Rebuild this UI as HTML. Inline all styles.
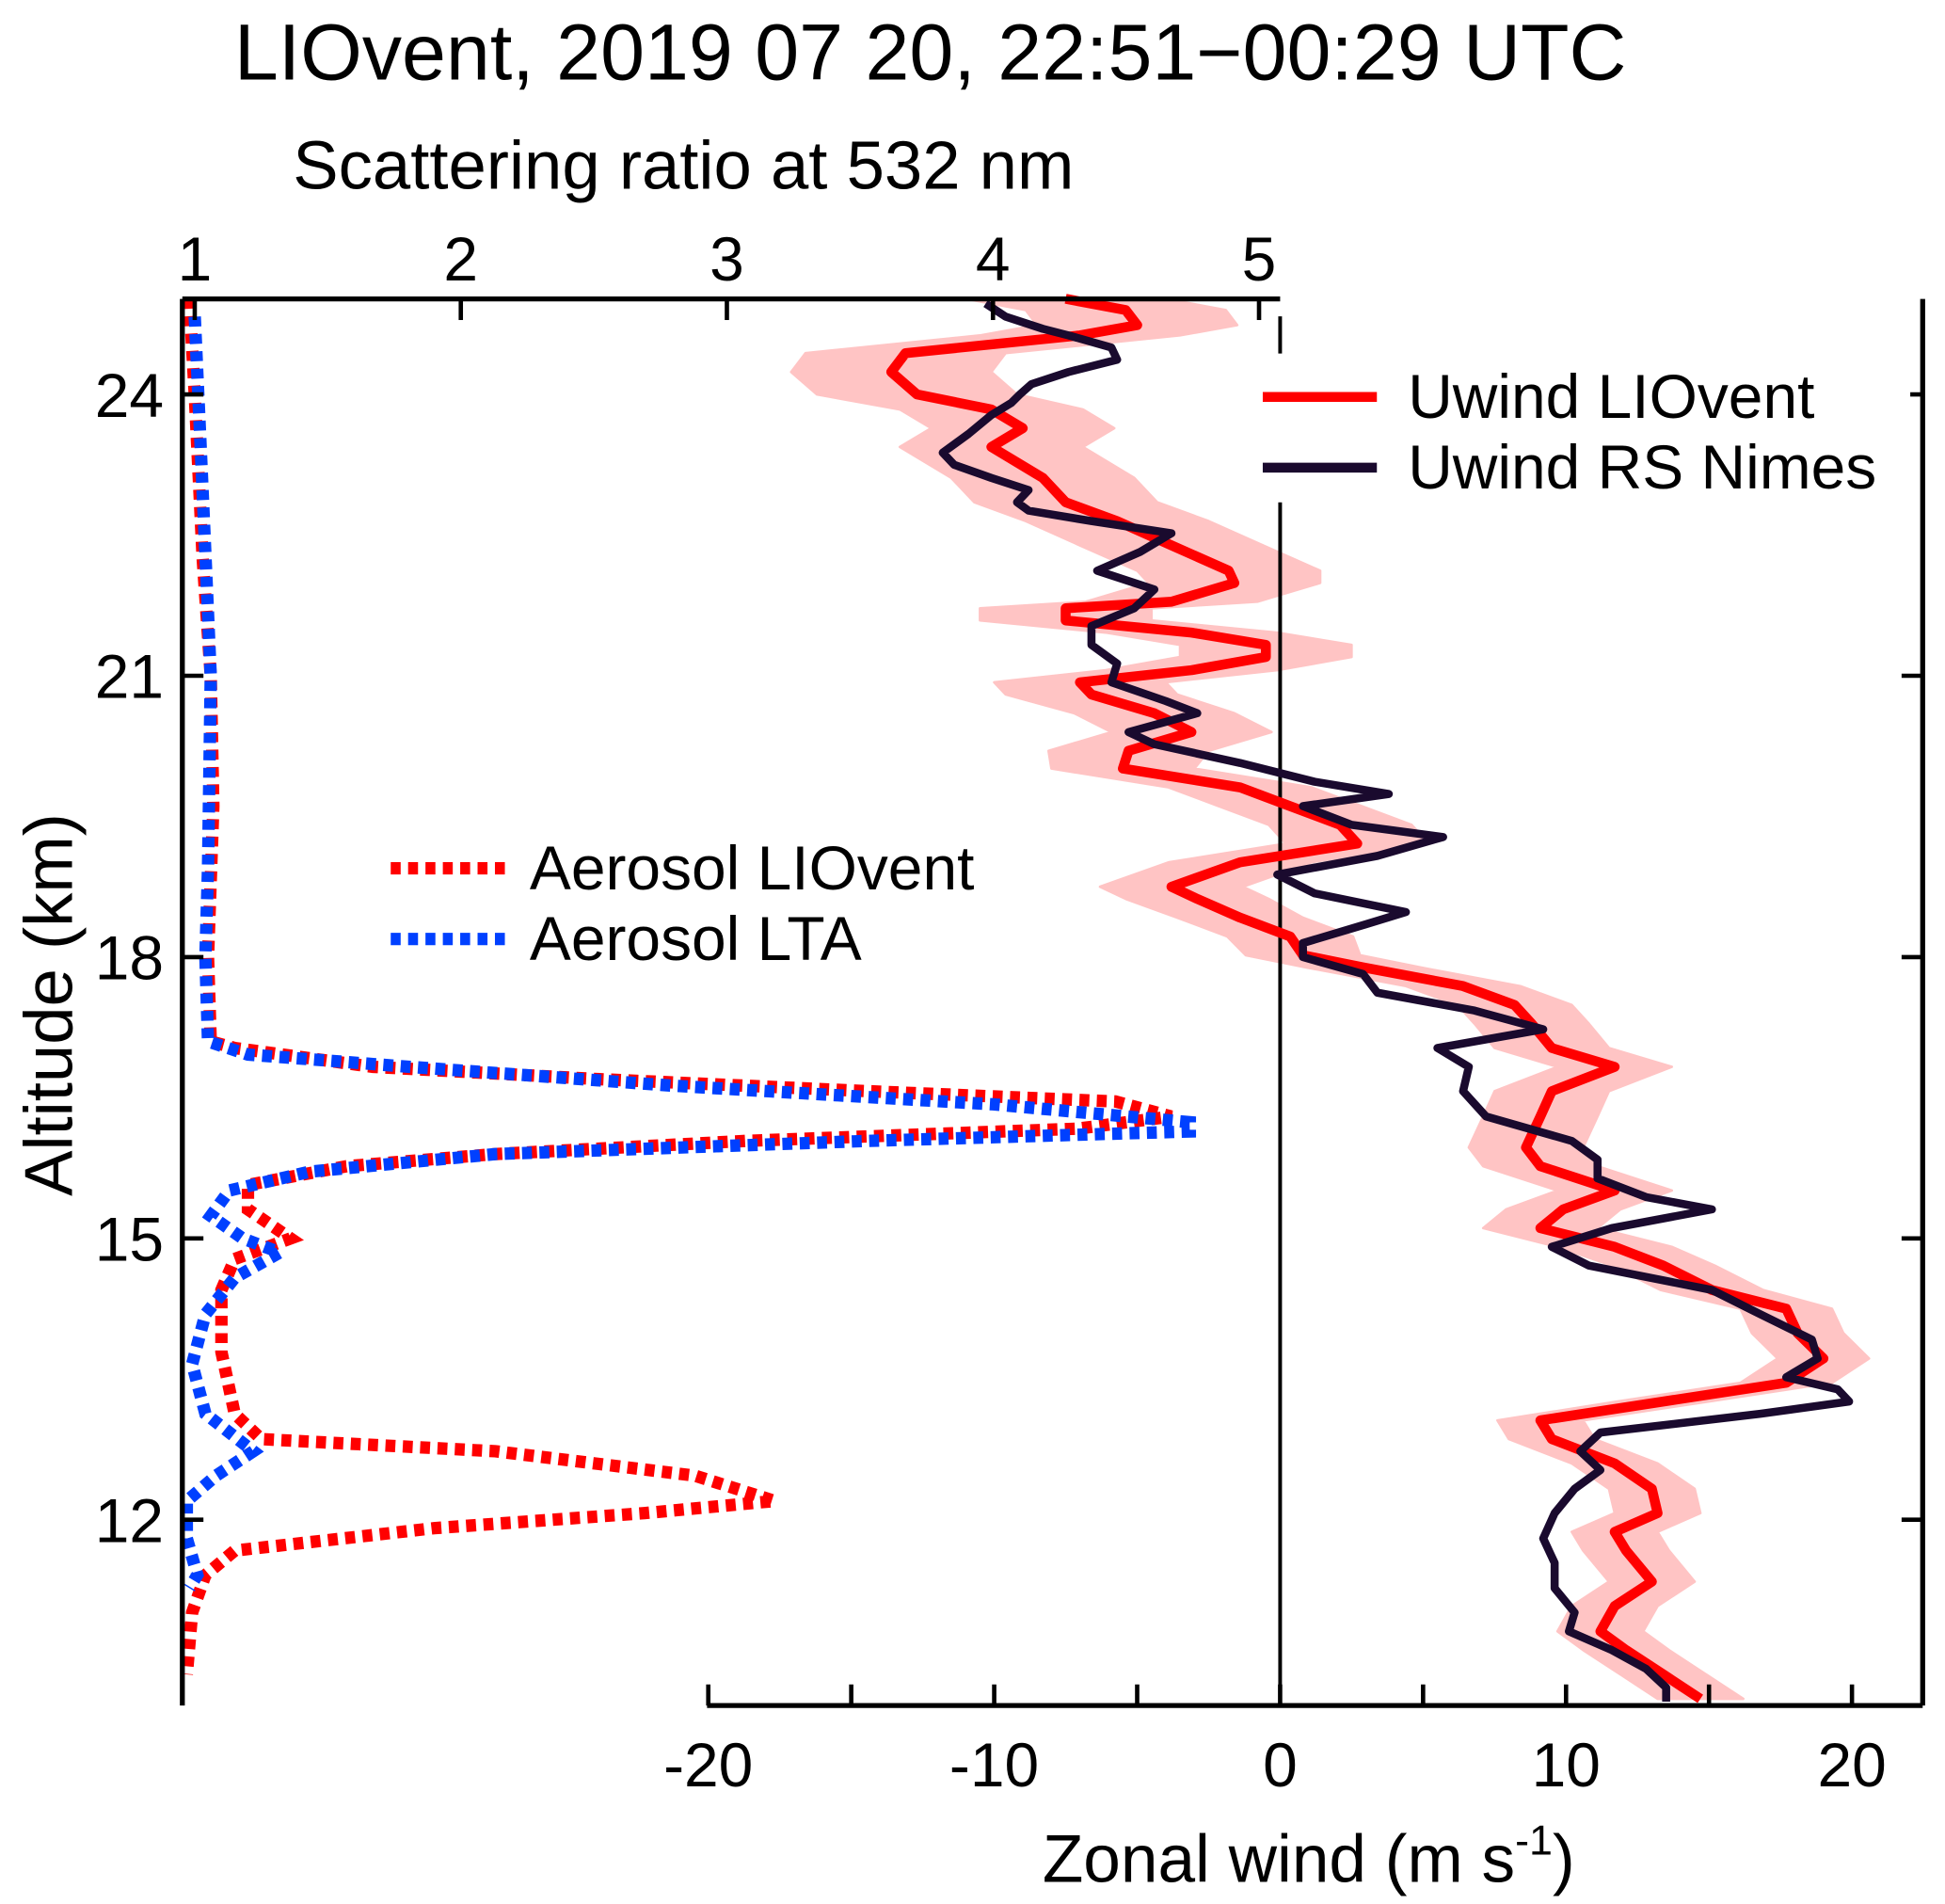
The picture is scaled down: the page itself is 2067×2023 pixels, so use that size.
<!DOCTYPE html>
<html><head><meta charset="utf-8"><style>
html,body{margin:0;padding:0;background:#fff;}
svg{display:block;font-family:"Liberation Sans",Arial,sans-serif;}
</style></head><body>
<svg id="chart" width="2067" height="2023" viewBox="0 0 1568 1535" preserveAspectRatio="none" xmlns="http://www.w3.org/2000/svg">
<text x="750" y="64" font-size="64" text-anchor="middle">LIOvent, 2019 07 20, 22:51−00:29 UTC</text>
<text x="551" y="152" font-size="55" text-anchor="middle">Scattering ratio at  532 nm</text>
<text transform="translate(58,810) rotate(-90)" font-size="55" text-anchor="middle">Altitude (km)</text>
<text x="1055" y="1517" font-size="54" text-anchor="middle">Zonal wind (m s<tspan font-size="34" dy="-22">-1</tspan><tspan dy="22">)</tspan></text>
<g id="plot"></g>
</svg>
<script>
const altTicks=[24,21,18,15,12];
const srTicks=[1,2,3,4,5];
const windTicks=[-20,-15,-10,-5,0,5,10,15,20];
const windLabels=["-20","","-10","","0","","10","","20"];

const aerLioAlt=[25.02,24.0,22.25,21.0,19.61,18.0,17.1,17.03,16.83,16.70,16.57,16.46,16.30,16.17,16.04,15.90,15.77,15.57,15.31,15.0,14.78,14.45,13.79,13.13,12.86,12.73,12.47,12.20,12.07,11.91,11.67,11.41,11.01,10.35];
const aerLioSR=[0.98,1.0,1.03,1.06,1.07,1.05,1.06,1.15,1.67,2.51,3.53,4.46,4.67,4.32,3.07,2.13,1.57,1.20,1.20,1.36,1.15,1.10,1.10,1.15,1.25,2.13,2.88,3.18,2.69,1.90,1.15,1.04,0.99,0.97];
const aerLtaAlt=[24.83,23.58,21.0,18.95,18.0,17.1,16.96,16.83,16.63,16.43,16.24,16.14,16.04,15.90,15.71,15.51,15.24,15.0,14.85,14.58,14.19,13.66,13.13,12.73,12.47,12.20,11.80,11.41,11.27];
const aerLtaSR=[1.0,1.02,1.06,1.05,1.04,1.05,1.20,1.81,2.79,4.0,4.74,4.74,3.53,2.13,1.43,1.13,1.06,1.18,1.32,1.15,1.04,0.99,1.04,1.22,1.08,0.97,0.97,1.01,0.98];

const uLioAlt=[25.02,24.90,24.74,24.63,24.44,24.24,24.0,23.84,23.64,23.44,23.11,22.85,22.65,22.39,22.12,21.99,21.79,21.72,21.59,21.46,21.33,21.20,21.06,20.93,20.80,20.60,20.40,20.20,20.01,19.81,19.61,19.41,19.21,19.01,18.75,18.62,18.42,18.22,18.02,17.89,17.69,17.49,17.29,17.03,16.83,16.57,16.30,15.97,15.77,15.51,15.31,15.11,14.91,14.71,14.45,14.25,13.99,13.72,13.46,13.26,13.06,12.86,12.60,12.33,12.07,11.87,11.67,11.34,11.08,10.81,10.61,10.35,10.09];
const uLio=[-7.5,-5.4,-5.0,-7.0,-13.1,-13.6,-12.7,-10.1,-9.0,-10.1,-8.3,-7.5,-5.7,-3.8,-1.8,-1.6,-3.8,-7.5,-7.5,-3.1,-0.5,-0.5,-3.1,-7.0,-6.6,-4.4,-3.1,-5.3,-5.5,-1.4,0.35,2.1,2.7,-1.4,-3.8,-2.9,-1.4,0.35,0.8,2.9,6.4,8.2,8.8,9.5,11.7,9.5,9.1,8.6,9.1,11.7,9.9,9.1,11.7,13.4,15.1,17.7,18.1,19.0,17.7,13.4,9.1,9.5,11.7,13.0,13.2,11.7,12.1,13.0,11.7,11.2,12.1,13.4,14.7];
const uLioErr=[3.5,3.5,3.5,3.5,3.5,3.5,3.5,3.2,3.2,3.2,3.2,3.2,3.2,3.2,3.2,3,3,3,3,3,3,3,3,3,3,2.8,2.8,2.8,2.5,2.5,2.5,2.5,2.5,2.5,2.5,2.5,2.2,2.2,2,2,2,2,2,2,2,2,2,2,2,2,2,2,2,1.8,1.8,1.6,1.6,1.6,1.6,1.6,1.5,1.5,1.5,1.5,1.5,1.5,1.5,1.5,1.5,1.5,1.5,1.5,1.5];

const uRsAlt=[24.97,24.83,24.70,24.63,24.50,24.37,24.24,24.11,24.0,23.91,23.78,23.58,23.38,23.25,23.11,22.98,22.85,22.76,22.65,22.52,22.32,22.12,21.92,21.72,21.53,21.33,21.13,20.93,20.73,20.60,20.40,20.27,20.07,19.87,19.74,19.61,19.41,19.28,19.08,18.88,18.68,18.48,18.35,18.15,18.0,17.82,17.62,17.43,17.23,17.03,16.83,16.57,16.30,16.04,15.84,15.64,15.44,15.31,15.11,14.91,14.71,14.45,14.19,13.92,13.72,13.52,13.39,13.26,13.13,12.93,12.73,12.53,12.33,12.07,11.80,11.54,11.27,11.01,10.81,10.61,10.41,10.21,10.06];
const uRs=[-10.3,-9.6,-8.3,-7.4,-5.9,-5.7,-7.4,-8.7,-9.1,-9.4,-10.1,-10.9,-11.8,-11.4,-10.1,-8.8,-9.2,-8.8,-6.6,-3.8,-4.9,-6.4,-4.4,-5.1,-6.6,-6.6,-5.7,-5.9,-4.0,-2.9,-5.3,-4.4,-1.4,1.2,3.8,0.8,2.5,5.7,3.4,-0.1,1.2,4.4,3.0,0.8,0.8,2.9,3.4,6.8,9.2,5.5,6.6,6.4,7.2,10.2,11.1,11.1,12.8,15.1,11.6,9.5,10.8,15.1,16.8,18.6,18.8,17.7,19.5,19.9,16.8,11.2,10.5,11.2,10.3,9.6,9.2,9.6,9.6,10.3,10.1,11.6,12.8,13.5,13.5];

const NS="http://www.w3.org/2000/svg";
const svg=document.getElementById('plot');
function yA(a){return 318+(24-a)*75.6;}
function xS(s){return 157+(s-1)*214.5;}
function xU(u){return 1032+u*23.05;}
function mk(tag,attrs,parent){const e=document.createElementNS(NS,tag);for(const k in attrs)e.setAttribute(k,attrs[k]);(parent||svg).appendChild(e);return e;}
function pts(xs,ys,fx){return xs.map((v,i)=>fx(v).toFixed(1)+','+yA(ys[i]).toFixed(1)).join(' ');}

let band=[];
for(let i=0;i<uLio.length;i++)band.push(xU(uLio[i]+uLioErr[i]).toFixed(1)+','+yA(uLioAlt[i]).toFixed(1));
for(let i=uLio.length-1;i>=0;i--)band.push(xU(uLio[i]-uLioErr[i]).toFixed(1)+','+yA(uLioAlt[i]).toFixed(1));
let e=mk('polygon',{points:band.join(' '),fill:'#ffc4c4','stroke':'#ffc4c4','stroke-width':2,'stroke-linejoin':'round'});



e=mk('line',{x1:1032,y1:255,x2:1032,y2:1375,stroke:'#000','stroke-width':3});



e=mk('polyline',{points:pts(uLio,uLioAlt,xU),fill:'none',stroke:'#ff0000','stroke-width':8,'stroke-linejoin':'round'});


e=mk('polyline',{points:pts(uRs,uRsAlt,xU),fill:'none',stroke:'#1a0a2e','stroke-width':6.5,'stroke-linejoin':'round'});



e=mk('polyline',{points:pts(aerLioSR,aerLioAlt,xS),fill:'none',stroke:'#ff0000','stroke-width':10,'stroke-dasharray':'8 6'});


e=mk('polyline',{points:pts(aerLtaSR,aerLtaAlt,xS),fill:'none',stroke:'#0040ff','stroke-width':10,'stroke-dasharray':'8 6'});



e=mk('path',{d:'M147,241 H1032 M147,241 V1375 M570,1375 H1550 M1550,241 V1375',stroke:'#000','stroke-width':4,fill:'none'});


altTicks.forEach(a=>{
  const y=yA(a);
  let t=mk('line',{x1:147,y1:y,x2:164,y2:y,stroke:'#000','stroke-width':3.5});
  
  
  t=mk('line',{x1:1533,y1:y,x2:1550,y2:y,stroke:'#000','stroke-width':3.5});
  
  
  t=mk('text',{x:132,y:y+18,'font-size':50,'text-anchor':'end'});t.textContent=a;
  
  
});
srTicks.forEach(s=>{
  const x=xS(s);
  let t=mk('line',{x1:x,y1:241,x2:x,y2:258,stroke:'#000','stroke-width':3.5});
  
  
  t=mk('text',{x:x,y:226,'font-size':50,'text-anchor':'middle'});t.textContent=s;
  
  
});
windTicks.forEach((u,i)=>{
  const x=xU(u);
  let t=mk('line',{x1:x,y1:1358,x2:x,y2:1375,stroke:'#000','stroke-width':3.5});
  
  
  if(windLabels[i]){t=mk('text',{x:x,y:1440,'font-size':50,'text-anchor':'middle'});t.textContent=windLabels[i];
  
  }
});

const lg=mk('g',{});


mk('rect',{x:1010,y:285,width:530,height:120,fill:'#fff'},lg);
e=mk('line',{x1:1018,y1:320,x2:1110,y2:320,stroke:'#ff0000','stroke-width':8},lg);


e=mk('text',{x:1135,y:337,'font-size':50},lg);e.textContent='Uwind LIOvent';


e=mk('line',{x1:1018,y1:377,x2:1110,y2:377,stroke:'#1a0a2e','stroke-width':8},lg);


e=mk('text',{x:1135,y:394,'font-size':50},lg);e.textContent='Uwind RS Nimes';



const la=mk('g',{});


e=mk('line',{x1:315,y1:700,x2:410,y2:700,stroke:'#ff0000','stroke-width':10,'stroke-dasharray':'8 6'},la);


e=mk('text',{x:427,y:717,'font-size':50},la);e.textContent='Aerosol LIOvent';


e=mk('line',{x1:315,y1:757,x2:410,y2:757,stroke:'#0040ff','stroke-width':10,'stroke-dasharray':'8 6'},la);


e=mk('text',{x:427,y:774,'font-size':50},la);e.textContent='Aerosol LTA';


</script>
</body></html>
